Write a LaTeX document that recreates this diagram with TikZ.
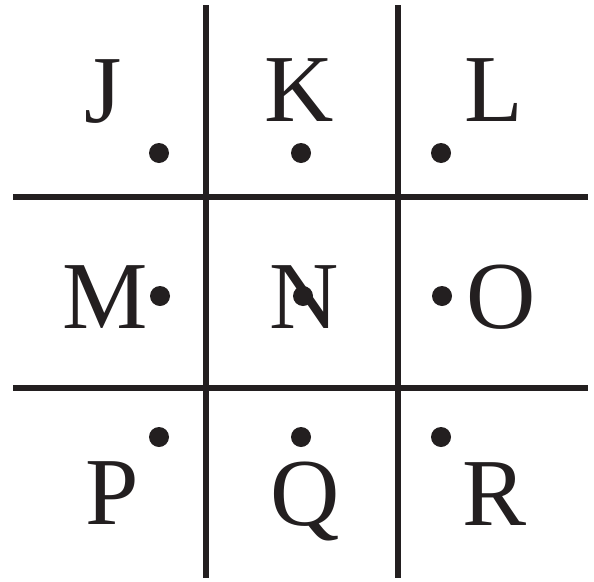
\documentclass[tikz,border=0pt]{standalone}
\usepackage{fontspec}
\setmainfont{Liberation Serif}
\definecolor{ink}{RGB}{35,31,32}
\begin{document}
\begin{tikzpicture}[x=1pt,y=-1pt,
  gridline/.style={line width=6.5pt,draw=ink},
  letter/.style={inner sep=0pt,anchor=base,text=ink,font=\fontsize{96}{96}\selectfont},
  pdot/.style={circle,fill=ink,inner sep=0pt,minimum size=20pt}]
\useasboundingbox (0,0) rectangle (594,581);
% grid
\coordinate (v1t) at (206,5);   \coordinate (v1b) at (206,578);
\coordinate (v2t) at (398,5);   \coordinate (v2b) at (398,578);
\coordinate (h1l) at (13,197);  \coordinate (h1r) at (588,197);
\coordinate (h2l) at (13,388);  \coordinate (h2r) at (588,388);
\draw[gridline] (v1t) -- (v1b);
\draw[gridline] (v2t) -- (v2b);
\draw[gridline] (h1l) -- (h1r);
\draw[gridline] (h2l) -- (h2r);
% letters
\node[letter] (J) at (103,122) {J};
\node[letter] (K) at (299,121) {K};
\node[letter] (L) at (494,121) {L};
\node[letter] (M) at (105,328) {M};
\node[letter] (N) at (304,328) {N};
\node[letter] (O) at (501,328) {O};
\node[letter] (P) at (112,524) {P};
\node[letter] (Q) at (305,525) {Q};
\node[letter] (R) at (495,525) {R};
% dots
\node[pdot] (dJ) at (159,153) {};
\node[pdot] (dK) at (301,153) {};
\node[pdot] (dL) at (441,153) {};
\node[pdot] (dM) at (160,296) {};
\node[pdot] (dN) at (303,296) {};
\node[pdot] (dO) at (442,296) {};
\node[pdot] (dP) at (159,437) {};
\node[pdot] (dQ) at (301,437) {};
\node[pdot] (dR) at (441,437) {};
\end{tikzpicture}
\end{document}
